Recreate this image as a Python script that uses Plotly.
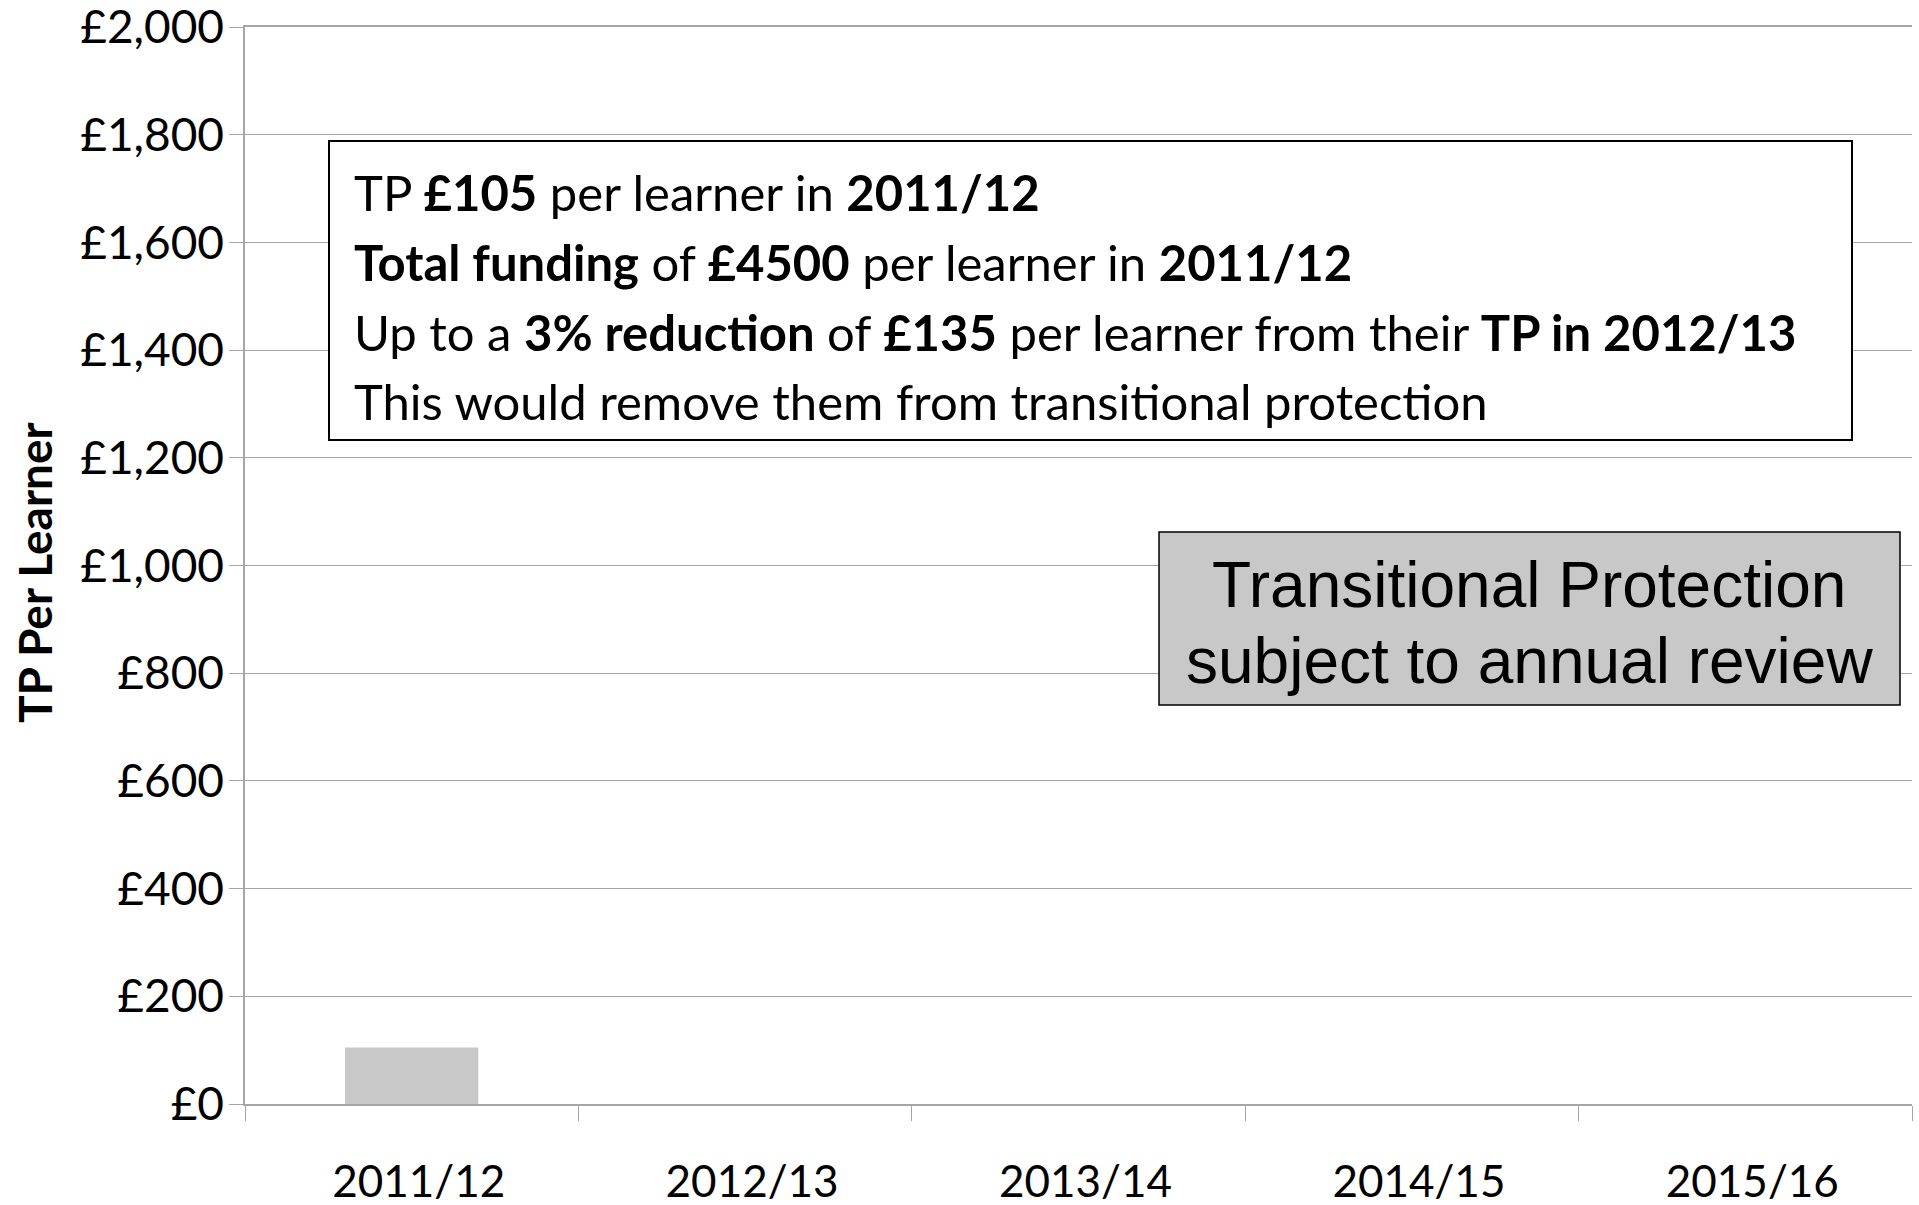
import plotly.graph_objects as go

# ---- data ----
years = ["2011/12", "2012/13", "2013/14", "2014/15", "2015/16"]
tp_per_learner = [105, None, None, None, None]
y_ticks = [0, 200, 400, 600, 800, 1000, 1200, 1400, 1600, 1800, 2000]
y_tick_labels = ["£0", "£200", "£400", "£600", "£800", "£1,000", "£1,200",
                 "£1,400", "£1,600", "£1,800", "£2,000"]
note_lines = [
    "TP <b>£105</b> per learner in <b>2011/12</b>",
    "<b>Total funding</b> of <b>£4500</b> per learner in <b>2011/12</b>",
    "Up to a <b>3% reduction</b> of <b>£135</b> per learner from their <b>TP in 2012/13</b>",
    "This would remove them from transitional protection",
]
review_lines = ["Transitional Protection", "subject to annual review"]

W, H = 1919, 1205
L, R, T, B = 245, 1912, 27, 1104
FONT = "Lato, Carlito, Calibri, sans-serif"
GRID = "#a6a6a6"


def px(x):
    return (x - L) / (R - L)


def py(y):
    return (B - y) / (B - T)


fig = go.Figure()
fig.add_trace(go.Bar(x=years, y=tp_per_learner, marker=dict(color="#c8c8c8", line=dict(width=0)),
                     width=0.4, showlegend=False, hoverinfo="x+y"))

shapes = [
    dict(type="rect", xref="paper", yref="paper", x0=px(329), x1=px(1852), y0=py(440), y1=py(141),
         line=dict(color="black", width=2), fillcolor="white", layer="above"),
    dict(type="rect", xref="paper", yref="paper", x0=px(1159), x1=px(1900), y0=py(705), y1=py(532),
         line=dict(color="black", width=1.5), fillcolor="#c8c8c8", layer="above"),
]

annotations = []
for line, yc in zip(note_lines, [192, 262, 332, 401]):
    annotations.append(dict(text=line, xref="paper", yref="paper", x=px(352), y=py(yc),
                            xanchor="left", yanchor="middle", showarrow=False,
                            font=dict(family=FONT, size=49, color="black")))
for line, yc in zip(review_lines, [585, 661]):
    annotations.append(dict(text=line, xref="paper", yref="paper", x=px(1529), y=py(yc),
                            xanchor="center", yanchor="middle", showarrow=False,
                            font=dict(family="Liberation Sans, Arial, sans-serif", size=64, color="black")))
annotations.append(dict(text="<b>TP Per Learner</b>", xref="paper", yref="paper", x=px(34), y=py(572),
                        xanchor="center", yanchor="middle", textangle=-90, showarrow=False,
                        font=dict(family=FONT, size=46, color="black")))

fig.update_layout(
    width=W, height=H,
    margin=dict(l=L, r=W - R, t=T, b=H - B, autoexpand=False),
    paper_bgcolor="white", plot_bgcolor="white",
    font=dict(family=FONT, color="black"),
    bargap=0.6,
    shapes=shapes,
    annotations=annotations,
    xaxis=dict(
        type="category", tickson="boundaries", ticks="outside", ticklen=15, tickcolor=GRID,
        showline=True, linecolor=GRID, linewidth=1.5, showgrid=False, mirror=True,
        tickfont=dict(family=FONT, size=44, color="black"), ticklabelstandoff=38,
        ticklabelshift=7, range=[-0.5, 4.5],
    ),
    yaxis=dict(
        range=[0, 2000], tickvals=y_ticks, ticktext=y_tick_labels,
        ticks="outside", ticklen=14, tickcolor=GRID,
        showline=True, linecolor=GRID, linewidth=1.5,
        showgrid=True, gridcolor=GRID, gridwidth=1, zeroline=False,
        ticklabeloverflow="allow", ticklabelstandoff=-4,
        tickfont=dict(family=FONT, size=46, color="black"),
    ),
)

fig.write_html("out.html", config={"displayModeBar": False},
               post_script="document.body.style.margin='0';document.body.style.overflow='hidden';")
